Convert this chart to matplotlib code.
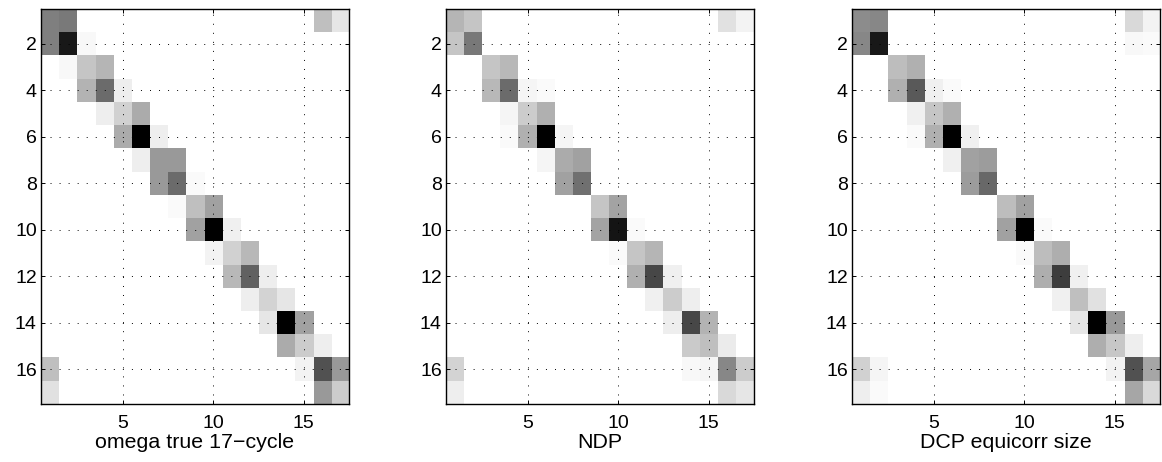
import matplotlib.pyplot as plt
import numpy as np

plt.rcParams['font.family'] = ['Liberation Sans', 'DejaVu Sans']

# titulos dos paineis (rotulos do eixo x)
titulos = ['omega true 17\u2212cycle', 'NDP', 'DCP equicorr size']
n = 17

# entradas nao nulas de cada matriz: (linha, coluna, intensidade 0..1)
omega_true = [
    (1, 1, .50), (1, 2, .52), (1, 16, .25), (1, 17, .10),
    (2, 1, .50), (2, 2, .90), (2, 3, .03),
    (3, 2, .03), (3, 3, .23), (3, 4, .29),
    (4, 3, .30), (4, 4, .58), (4, 5, .07),
    (5, 4, .07), (5, 5, .18), (5, 6, .33),
    (6, 5, .33), (6, 6, 1.0), (6, 7, .07),
    (7, 6, .07), (7, 7, .40), (7, 8, .40),
    (8, 7, .40), (8, 8, .58), (8, 9, .02),
    (9, 8, .02), (9, 9, .25), (9, 10, .37),
    (10, 9, .37), (10, 10, 1.0), (10, 11, .06),
    (11, 10, .05), (11, 11, .18), (11, 12, .28),
    (12, 11, .28), (12, 12, .62), (12, 13, .07),
    (13, 12, .07), (13, 13, .17), (13, 14, .10),
    (14, 13, .10), (14, 14, 1.0), (14, 15, .37),
    (15, 14, .33), (15, 15, .20), (15, 16, .07),
    (16, 1, .25), (16, 15, .05), (16, 16, .68), (16, 17, .40),
    (17, 1, .12), (17, 16, .40), (17, 17, .20),
]

ndp = [
    (1, 1, .29), (1, 2, .23), (1, 16, .12), (1, 17, .05),
    (2, 1, .23), (2, 2, .53),
    (3, 3, .23), (3, 4, .28),
    (4, 3, .28), (4, 4, .58), (4, 5, .04), (4, 6, .02),
    (5, 4, .04), (5, 5, .20), (5, 6, .31),
    (6, 4, .02), (6, 5, .31), (6, 6, 1.0), (6, 7, .04),
    (7, 6, .04), (7, 7, .33), (7, 8, .37),
    (8, 7, .37), (8, 8, .56),
    (9, 9, .23), (9, 10, .36),
    (10, 9, .36), (10, 10, .92), (10, 11, .02),
    (11, 10, .02), (11, 11, .23), (11, 12, .29),
    (12, 11, .31), (12, 12, .72), (12, 13, .06),
    (13, 12, .06), (13, 13, .20), (13, 14, .07),
    (14, 13, .07), (14, 14, .72), (14, 15, .30),
    (15, 14, .21), (15, 15, .25), (15, 16, .08),
    (16, 1, .17), (16, 14, .03), (16, 15, .04), (16, 16, .47), (16, 17, .20),
    (17, 1, .07), (17, 16, .15), (17, 17, .10),
]

dcp = [
    (1, 1, .45), (1, 2, .47), (1, 16, .15), (1, 17, .05),
    (2, 1, .47), (2, 2, .90), (2, 16, .03), (2, 17, .02),
    (3, 3, .26), (3, 4, .31),
    (4, 3, .31), (4, 4, .65), (4, 5, .06), (4, 6, .02),
    (5, 4, .06), (5, 5, .23), (5, 6, .31),
    (6, 4, .02), (6, 5, .31), (6, 6, 1.0), (6, 7, .06),
    (7, 6, .06), (7, 7, .37), (7, 8, .39),
    (8, 7, .39), (8, 8, .59),
    (9, 9, .26), (9, 10, .37),
    (10, 9, .37), (10, 10, 1.0), (10, 11, .02),
    (11, 10, .02), (11, 11, .26), (11, 12, .32),
    (12, 11, .32), (12, 12, .76), (12, 13, .06),
    (13, 12, .06), (13, 13, .25), (13, 14, .12),
    (14, 13, .10), (14, 14, 1.0), (14, 15, .40),
    (15, 14, .32), (15, 15, .22), (15, 16, .07),
    (16, 1, .18), (16, 2, .04), (16, 15, .05), (16, 16, .68), (16, 17, .35),
    (17, 1, .07), (17, 2, .02), (17, 16, .35), (17, 17, .15),
]

xticks = [5, 10, 15]
yticks = [2, 4, 6, 8, 10, 12, 14, 16]


def monta_matriz(entradas):
    M = np.zeros((n, n))
    for i, j, v in entradas:
        M[i - 1, j - 1] = v
    return M


fig = plt.figure(figsize=(11.62, 4.62), dpi=100)
W, H = 1162, 462
lefts = [41, 446, 852]
for k, (dados, titulo) in enumerate(zip([omega_true, ndp, dcp], titulos)):
    ax = fig.add_axes([lefts[k] / W, (H - 404) / H, 308 / W, 395 / H])
    M = monta_matriz(dados)
    ax.imshow(M, cmap='gray_r', vmin=0, vmax=1, aspect='auto',
              interpolation='nearest', extent=(0.5, n + 0.5, n + 0.5, 0.5))
    ax.set_xticks(xticks)
    ax.set_yticks(yticks)
    ax.grid(True, color='black', linewidth=0.7, linestyle=(0, (1, 8.3)))
    ax.set_axisbelow(False)
    ax.tick_params(direction='in', length=3, width=0.7, top=True, right=True,
                   labelsize=14)
    ax.tick_params(axis='x', pad=8)
    ax.tick_params(axis='y', pad=3)
    for s in ax.spines.values():
        s.set_linewidth(1.0)
    ax.set_xlabel(titulo, fontsize=15.4, labelpad=1)

fig.savefig('out.png', dpi=100)
